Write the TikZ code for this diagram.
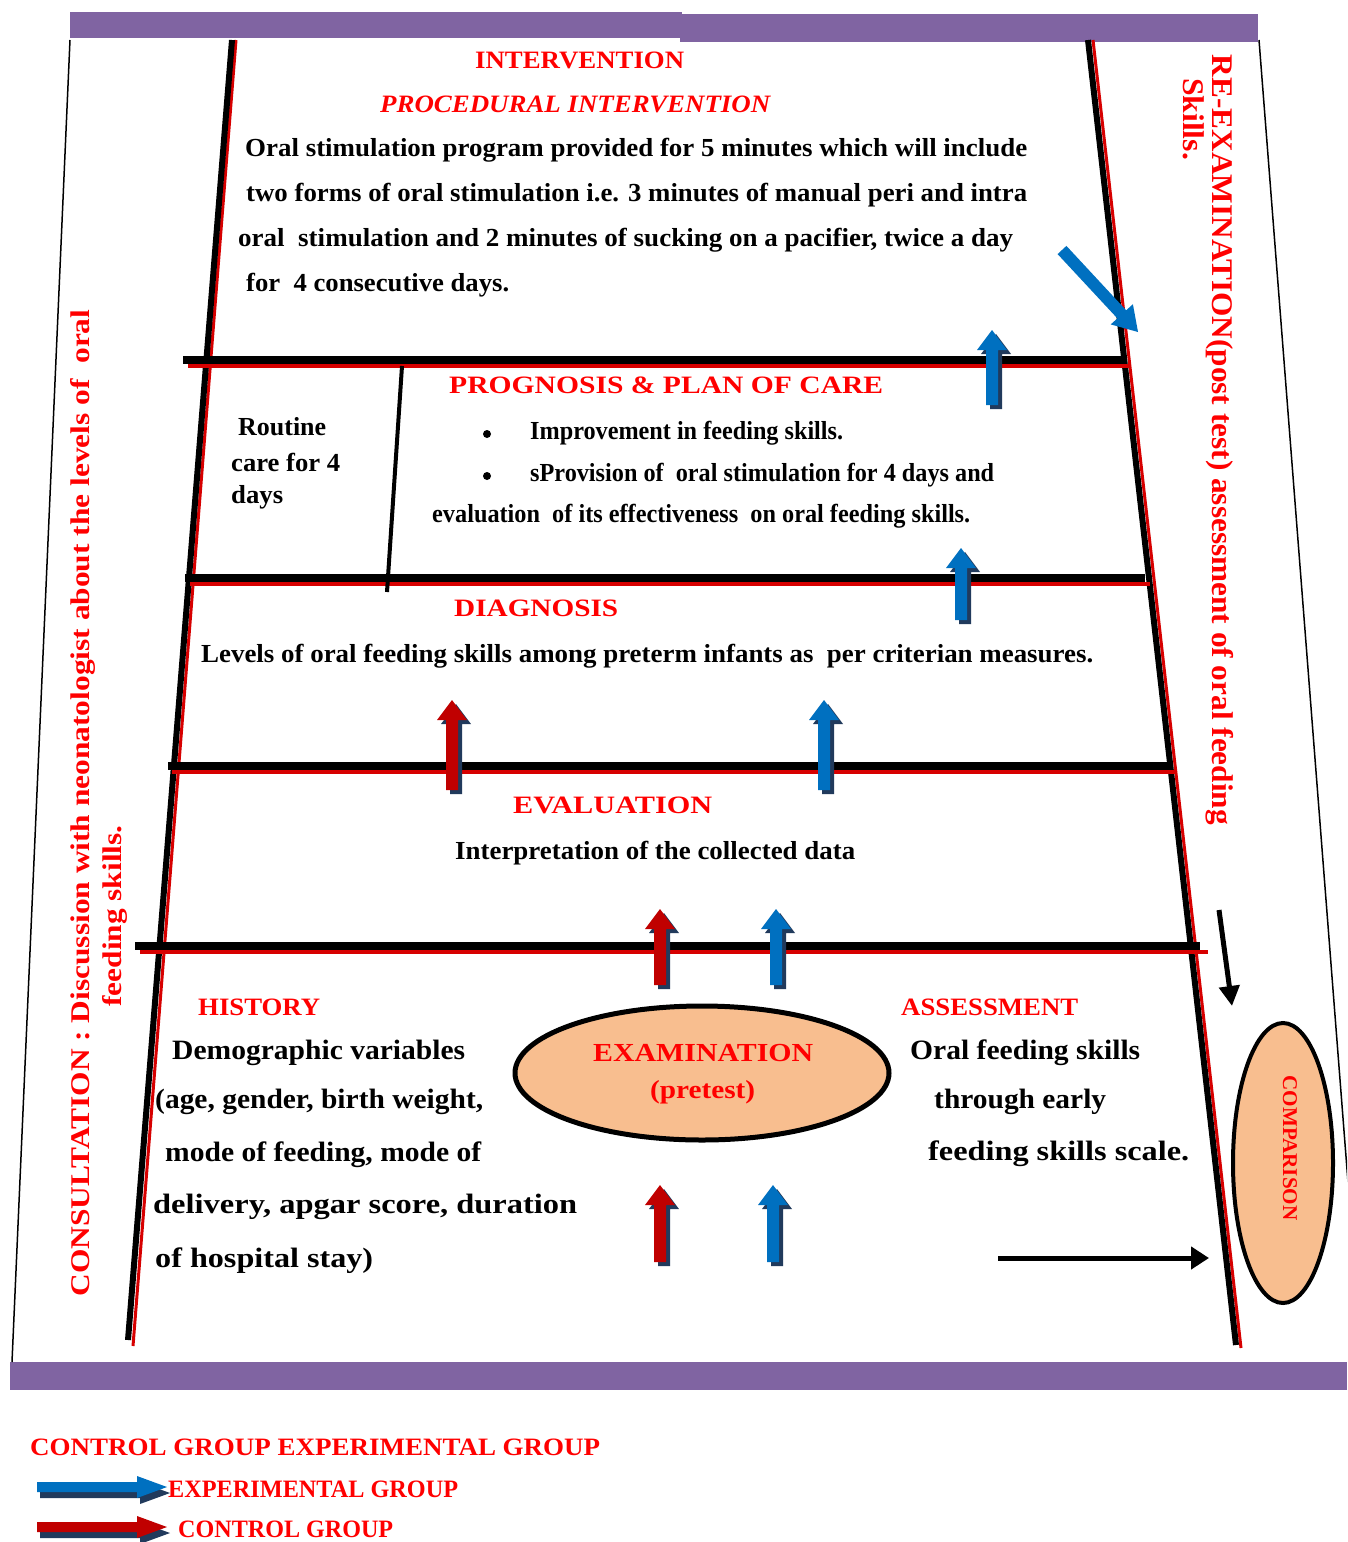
\documentclass[tikz,border=0pt]{standalone}
\usepackage{fontspec}
\setmainfont{Liberation Serif}
\usepackage{graphicx}
\usetikzlibrary{shapes.geometric,arrows.meta}
\definecolor{purp}{RGB}{128,100,162}
\definecolor{bluA}{RGB}{0,112,192}
\definecolor{redA}{RGB}{192,0,0}
\definecolor{shad}{RGB}{33,58,92}
\definecolor{peach}{RGB}{248,190,143}
\definecolor{txtred}{RGB}{255,0,0}
\definecolor{linered}{RGB}{215,0,0}
\newcommand\fw[2]{\resizebox{#1pt}{\height}{#2}}
\newcommand\uparr[4]{%
 \fill[shad] (#1-2,#2+4) -- (#1-2,#3+24) -- (#1-11,#3+24) -- (#1+4,#3+4) -- (#1+19,#3+24) -- (#1+10,#3+24) -- (#1+10,#2+4) -- cycle;
 \fill[#4] (#1-6,#2) -- (#1-6,#3+20) -- (#1-15,#3+20) -- (#1,#3) -- (#1+15,#3+20) -- (#1+6,#3+20) -- (#1+6,#2) -- cycle;}
\newcommand\rtarr[4]{%
 \fill[shad] (#1+3,#3+1) -- (#2-27,#3+1) -- (#2-27,#3-5) -- (#2+3,#3+6) -- (#2-27,#3+17) -- (#2-27,#3+11) -- (#1+3,#3+11) -- cycle;
 \fill[#4] (#1,#3-5) -- (#2-30,#3-5) -- (#2-30,#3-11) -- (#2,#3) -- (#2-30,#3+11) -- (#2-30,#3+5) -- (#1,#3+5) -- cycle;}
\tikzset{
 tred/.style={text=txtred, font=\bfseries\fontsize{25}{30}\selectfont, inner sep=0, anchor=west},
 tblk/.style={text=black, font=\bfseries\fontsize{26}{30}\selectfont, inner sep=0, anchor=west},
 tbig/.style={text=black, font=\bfseries\fontsize{28}{32}\selectfont, inner sep=0, anchor=west},
 bulletdot/.style={circle, fill=black, inner sep=0, minimum size=8pt},
 hbarblack/.style={line width=8pt, black},
 hbarred/.style={line width=4pt, linered},
 sideblack/.style={line width=6pt, black},
 sidered/.style={line width=3pt, linered},
 thinline/.style={line width=1.5pt, black},
 oval/.style={ellipse, draw=black, fill=peach, inner sep=0},
}
\begin{document}
\begin{tikzpicture}[x=1pt,y=-1pt]
\useasboundingbox (0,0) rectangle (1347,1542);
\clip (0,0) rectangle (1347,1542);
\fill[white] (0,0) rectangle (1347,1542);
% purple bars
\fill[purp] (70,12) rectangle (682,38);
\fill[purp] (680,14) rectangle (1258,42);
\fill[purp] (10,1362) rectangle (1347,1390);
% outer thin lines
\coordinate (olt) at (70,40); \coordinate (olb) at (12,1362);
\coordinate (ort) at (1259,40); \coordinate (orb) at (1362,1362);
\draw[thinline] (olt) -- (olb);
\draw[thinline] (ort) -- (orb);
% sides
\draw[sidered] (236,40) -- (133,1346);
\draw[sideblack] (232,40) -- (128,1340);
\draw[sidered] (1093,40) -- (1241,1348);
\draw[sideblack] (1088,40) -- (1236,1345);
% horizontal bars
\draw[hbarred] (188,366) -- (1130,366);
\draw[hbarblack] (183,360) -- (1125,360);
\draw[hbarred] (190,584) -- (1150,584);
\draw[hbarblack] (185,578) -- (1145,578);
\draw[hbarred] (172,772) -- (1176,772);
\draw[hbarblack] (168,766) -- (1172,766);
\draw[hbarred] (140,952) -- (1208,952);
\draw[hbarblack] (135,946) -- (1200,946);
% divider
\draw[line width=4pt] (402,366) -- (387,592);
% texts: intervention
\node[tred] (t1) at (475,60) {\fw{209}{INTERVENTION}};
\node[tred, font=\bfseries\itshape\fontsize{25}{30}\selectfont] (t2) at (380,104) {\fw{390}{PROCEDURAL INTERVENTION}};
\node[tblk] (p1) at (245,150) {\fw{782}{Oral stimulation program provided for 5 minutes which will include}};
\node[tblk] (p2) at (246,195) {\fw{781}{two forms of oral stimulation i.e. 3 minutes of manual peri and intra}};
\node[tblk] (p3) at (238,240) {\fw{775}{oral\ \ stimulation and 2 minutes of sucking on a pacifier, twice a day}};
\node[tblk] (p4) at (246,285) {\fw{263}{for\ \ 4 consecutive days.}};
% prognosis
\node[tred] (t3) at (449,385) {\fw{434}{PROGNOSIS \& PLAN OF CARE}};
\node[bulletdot] (b1) at (487,434) {};
\node[bulletdot] (b2) at (487,476) {};
\node[tblk] (q1) at (530,433) {\fw{313}{Improvement in feeding skills.}};
\node[tblk] (q2) at (530,475) {\fw{464}{sProvision of\ \ oral stimulation for 4 days and}};
\node[tblk] (q3) at (432,516) {\fw{538}{evaluation\ \ of its effectiveness\ \ on oral feeding skills.}};
\node[tblk] (r1) at (238,427) {\fw{88}{Routine}};
\node[tblk] (r2) at (231,462) {\fw{109}{care for 4}};
\node[tblk] (r3) at (231,497) {\fw{52}{days}};
% diagnosis
\node[tred] (t4) at (454,608) {\fw{164}{DIAGNOSIS}};
\node[tblk] (d1) at (201,656) {\fw{892}{Levels of oral feeding skills among preterm infants as\ \ per criterian measures.}};
% evaluation
\node[tred] (t5) at (513,805) {\fw{199}{EVALUATION}};
\node[tblk] (e1) at (455,853) {\fw{400}{Interpretation of the collected data}};
% history
\node[tred] (t6) at (198,1007) {\fw{122}{HISTORY}};
\node[tbig] (h1) at (172,1053) {\fw{293}{Demographic variables}};
\node[tbig] (h2) at (155,1102) {\fw{328}{(age, gender, birth weight,}};
\node[tbig] (h3) at (165,1155) {\fw{316}{mode of feeding, mode of}};
\node[tbig] (h4) at (153,1207) {\fw{424}{delivery, apgar score, duration}};
\node[tbig] (h5) at (155,1261) {\fw{218}{of hospital stay)}};
% examination
\node[oval, line width=5pt, minimum width=374, minimum height=134] (exam) at (702,1073) {};
\node[tred, font=\bfseries\fontsize{26}{30}\selectfont] (x1) at (593,1053) {\fw{220}{EXAMINATION}};
\node[tred, font=\bfseries\fontsize{26}{30}\selectfont] (x2) at (650,1092) {\fw{105}{(pretest)}};
% assessment
\node[tred] (t7) at (901,1007) {\fw{177}{ASSESSMENT}};
\node[tbig] (a1) at (910,1053) {\fw{230}{Oral feeding skills}};
\node[tbig] (a2) at (934,1102) {\fw{172}{through early}};
\node[tbig] (a3) at (928,1154) {\fw{261}{feeding skills scale.}};
% comparison
\node[oval, line width=4pt, minimum width=100, minimum height=280] (comp) at (1283,1163) {};
\node[tred, anchor=center, rotate=-90, font=\bfseries\fontsize{21}{24}\selectfont] (cx) at (1290,1148) {\fw{145}{COMPARISON}};
% rotated side texts
\node[tred, anchor=base, rotate=90, font=\bfseries\fontsize{27}{30}\selectfont] (c1) at (89,803) {\fw{987}{CONSULTATION : Discussion with neonatologist about the levels of\ \ oral}};
\node[tred, anchor=base, rotate=90, font=\bfseries\fontsize{27}{30}\selectfont] (c2) at (121,916) {\fw{181}{feeding skills.}};
\node[tred, anchor=base, rotate=-90, font=\bfseries\fontsize{30}{34}\selectfont] (re1) at (1212,440) {\fw{770}{RE-EXAMINATION(post test) assessment of oral feeding}};
\node[tred, anchor=base, rotate=-90, font=\bfseries\fontsize{30}{34}\selectfont] (re2) at (1183,119) {\fw{82}{Skills.}};
% block arrows
\uparr{992}{405}{330}{bluA}
\uparr{961}{620}{548}{bluA}
\uparr{452}{790}{700}{redA}
\uparr{824}{790}{700}{bluA}
\uparr{660}{985}{909}{redA}
\uparr{776}{985}{909}{bluA}
\uparr{660}{1262}{1185}{redA}
\uparr{773}{1262}{1185}{bluA}
% diagonal blue arrow
\fill[bluA] (1057.6,254.1) -- (1117.4,318.4) -- (1110.7,324.4) -- (1138,332) -- (1132.9,304.2) -- (1126.2,310.3) -- (1066.4,245.9) -- cycle;
% black arrows
\coordinate (ka1) at (1219,910); \coordinate (ka2) at (1232,1006);
\draw[line width=5pt, -{Triangle[length=20pt,width=20pt]}] (ka1) -- (ka2);
\coordinate (kb1) at (998,1258); \coordinate (kb2) at (1209,1258);
\draw[line width=5pt, -{Triangle[length=18pt,width=22pt]}] (kb1) -- (kb2);
% legend
\node[tred, font=\bfseries\fontsize{25}{30}\selectfont] (l1) at (30,1447) {\fw{570}{CONTROL GROUP EXPERIMENTAL GROUP}};
\rtarr{37}{167}{1487}{bluA}
\node[tred, font=\bfseries\fontsize{25}{30}\selectfont] (l2) at (168,1489) {\fw{290}{EXPERIMENTAL GROUP}};
\rtarr{37}{167}{1527}{redA}
\node[tred, font=\bfseries\fontsize{25}{30}\selectfont] (l3) at (178,1529) {\fw{215}{CONTROL GROUP}};
\end{tikzpicture}
\end{document}
